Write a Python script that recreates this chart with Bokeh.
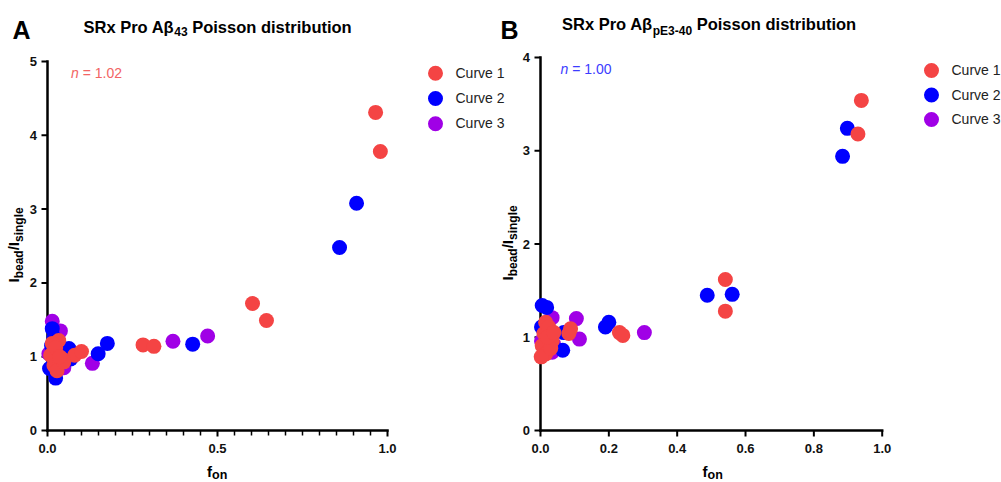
from bokeh.plotting import figure
from bokeh.models import Range1d, Label
from bokeh.core.properties import value
from bokeh.embed import file_html
from bokeh.resources import INLINE

# ---------------- data ----------------
series_names = ["Curve 1", "Curve 2", "Curve 3"]
series_colors = ["#F44444", "#0000FF", "#A000E6"]

# Panel A : SRx Pro Abeta43
a_curve1_x = [0.965, 0.979, 0.603, 0.644, 0.281, 0.313, 0.080, 0.100, 0.033, 0.019,
              0.043, 0.019, 0.028, 0.048, 0.009, 0.014, 0.024, 0.036]
a_curve1_y = [4.31, 3.78, 1.72, 1.49, 1.16, 1.14, 1.02, 1.07, 1.22, 1.08,
              0.97, 0.88, 0.81, 0.93, 1.02, 1.18, 1.12, 1.00]
a_curve2_x = [0.909, 0.859, 0.427, 0.176, 0.149, 0.014, 0.024, 0.019, 0.063, 0.068,
              0.006, 0.012, 0.020]
a_curve2_y = [3.08, 2.48, 1.17, 1.18, 1.04, 1.38, 0.71, 1.26, 1.11, 0.97,
              0.84, 1.15, 0.92]
a_curve3_x = [0.369, 0.471, 0.132, 0.014, 0.038, 0.004, 0.048, 0.045, 0.025]
a_curve3_y = [1.21, 1.28, 0.91, 1.48, 1.35, 1.04, 0.85, 0.88, 1.10]

# Panel B : SRx Pro Abeta pE3-40
b_curve1_x = [0.939, 0.929, 0.541, 0.541, 0.231, 0.241, 0.088, 0.083, 0.015, 0.010,
              0.024, 0.034, 0.005, 0.015, 0.002, 0.030, 0.020, 0.039]
b_curve1_y = [3.54, 3.18, 1.62, 1.28, 1.05, 1.02, 1.09, 1.04, 1.16, 1.04,
              1.11, 0.96, 0.91, 0.82, 0.79, 0.88, 1.00, 1.05]
b_curve2_x = [0.898, 0.884, 0.488, 0.561, 0.190, 0.200, 0.065, 0.068, 0.005, 0.018,
              0.003, 0.025]
b_curve2_y = [3.24, 2.94, 1.45, 1.46, 1.11, 1.16, 0.86, 1.05, 1.34, 1.32,
              1.11, 0.93]
b_curve3_x = [0.304, 0.105, 0.114, 0.034, 0.003, 0.038, 0.034, 0.020]
b_curve3_y = [1.05, 1.20, 0.98, 1.21, 0.96, 0.93, 0.84, 1.05]

a_xticks = [0.0, 0.5, 1.0]
a_xminor = [0.05, 0.1, 0.15, 0.2, 0.25, 0.3, 0.35, 0.4, 0.45,
            0.55, 0.6, 0.65, 0.7, 0.75, 0.8, 0.85, 0.9, 0.95]
a_yticks = [0, 1, 2, 3, 4, 5]
b_xticks = [0.0, 0.2, 0.4, 0.6, 0.8, 1.0]
b_xminor = []
b_yticks = [0, 1, 2, 3, 4]

a_sub = "43"
b_sub = "pE3-40"
a_n_text = "1.02"
b_n_text = "1.00"

FONT = "Liberation Sans"
W, H = 1001, 482
SHIFT = 0.39   # label anchor correction (fraction of font size)

BOLD = {' ': 278, '/': 278, '-': 333, '.': 278, '=': 584, 'A': 722, 'B': 722, 'C': 722,
        'E': 667, 'I': 278, 'P': 667, 'R': 722, 'S': 667, 'a': 556, 'b': 611, 'd': 611,
        'e': 556, 'f': 333, 'g': 611, 'i': 278, 'l': 278, 'n': 611, 'o': 611, 'p': 611,
        'r': 389, 's': 556, 't': 333, 'u': 611, 'x': 556, 'β': 611}
REG = {' ': 278, '=': 584, '.': 278, 'n': 556}


def tw(s, size, table=BOLD):
    return sum(table.get(c, 556) for c in s) * size / 1000.0


p = figure(width=W, height=H, output_backend="svg", toolbar_location=None, tools="",
           x_axis_location=None, y_axis_location=None,
           min_border=0, min_border_left=0, min_border_right=0,
           min_border_top=0, min_border_bottom=0)
p.outline_line_color = None
p.xgrid.visible = False
p.ygrid.visible = False
p.background_fill_color = "white"
p.border_fill_color = "white"

# pixel ranges for layout items (legend swatches)
p.extra_x_ranges["px"] = Range1d(0, W)
p.extra_y_ranges["py"] = Range1d(H, 0)


def add_text(cx, cy, text, size, style="bold", color="#000000", rotated=False):
    if rotated:
        ax, ay = cx - SHIFT * size, cy
    else:
        ax, ay = cx, cy - SHIFT * size
    p.add_layout(Label(x=ax, y=H - ay, x_units="screen", y_units="screen",
                       text=text, text_font=FONT, text_font_size=f"{size}px",
                       text_font_style=style, text_color=color,
                       angle=1.5708 if rotated else 0.0,
                       text_align="left", text_baseline="alphabetic"))


def make_panel(key, FL, FR, FT, FB, ymax, xticks, xminor, yticks, data,
               leg_x, leg_y0, leg_pitch, letter, letter_x, title_x, title_base, sub,
               sub_off, n_text, n_color, n_x, n_base, flabel_x, ylab_x, ylab_y):
    kx = 1.0 / (FR - FL)
    ky = ymax / (FB - FT)
    xr = Range1d(-FL * kx, (W - FL) * kx)
    yr = Range1d(-(H - FB) * ky, ymax + FT * ky)
    if key == "a":
        p.x_range = xr
        p.y_range = yr
        rn = dict()
    else:
        p.extra_x_ranges[key + "x"] = xr
        p.extra_y_ranges[key + "y"] = yr
        rn = dict(x_range_name=key + "x", y_range_name=key + "y")

    # axes from the tick lists
    p.segment(x0=[0, 0], y0=[0, 0], x1=[1, 0], y1=[0, ymax], line_width=2.5,
              line_color="#000000", line_cap="square", **rn)
    n = len(xticks)
    p.segment(x0=xticks, y0=[0] * n, x1=xticks, y1=[-6 * ky] * n,
              line_width=2, line_color="#000000", **rn)
    if xminor:
        m = len(xminor)
        p.segment(x0=xminor, y0=[0] * m, x1=xminor, y1=[-5 * ky] * m,
                  line_width=1.5, line_color="#000000", **rn)
    ny = len(yticks)
    p.segment(x0=[-6 * kx] * ny, y0=yticks, x1=[0] * ny, y1=yticks,
              line_width=2, line_color="#000000", **rn)
    p.text(x=xticks, y=[0] * n, text=[f"{t:.1f}" for t in xticks], y_offset=13.5,
           text_align="center", text_baseline="top", text_font=value(FONT),
           text_font_style="bold", text_font_size="13px", text_color="#111111", **rn)
    p.text(x=[0] * ny, y=yticks, text=[f"{t:d}" for t in yticks], x_offset=-10.5,
           text_align="right", text_baseline="middle", text_font=value(FONT),
           text_font_style="bold", text_font_size="13px", text_color="#111111", **rn)

    for idx in (2, 1, 0):
        xs, ys = data[idx]
        p.scatter(xs, ys, size=15, marker="circle", fill_color=series_colors[idx],
                  line_color=None, **rn)

    # legend (swatches + labels)
    ly = [leg_y0 + i * leg_pitch for i in range(len(series_names))]
    p.scatter([leg_x] * len(ly), ly, size=15, marker="circle", fill_color=series_colors,
              line_color=None, x_range_name="px", y_range_name="py")
    for i, name in enumerate(series_names):
        add_text(leg_x + 20, ly[i] + 5, name, 14, style="normal", color="#222222")

    # panel letter
    add_text(letter_x, 39.5, letter, 25)
    # title with subscript
    main = "SRx Pro Aβ"
    tail = "Poisson distribution"
    add_text(title_x, title_base, main, 16.5)
    x1 = title_x + tw(main, 16.5)
    add_text(x1, title_base + sub_off, sub, 12)
    x2 = x1 + tw(sub, 12) + tw(" ", 16.5)
    add_text(x2, title_base, tail, 16.5)
    # n annotation
    add_text(n_x, n_base, "n", 14, style="italic", color=n_color)
    add_text(n_x + tw("n ", 14, REG), n_base, "= " + n_text, 14,
             style="normal", color=n_color)
    # x axis label f_on
    add_text(flabel_x, 476.5, "f", 15)
    add_text(flabel_x + tw("f", 15), 479, "on", 12.5)
    # y axis label I_bead / I_single (rotated)
    parts = [("I", 15, 0), ("bead", 12, 4.5), ("/I", 15, 0), ("single", 12, 4.5)]
    cy = ylab_y
    for txt, sz, off in parts:
        add_text(ylab_x + off, cy, txt, sz, rotated=True)
        cy -= tw(txt, sz)


make_panel("a", 47, 387, 61, 430, 5, a_xticks, a_xminor, a_yticks,
           [(a_curve1_x, a_curve1_y), (a_curve2_x, a_curve2_y), (a_curve3_x, a_curve3_y)],
           leg_x=435, leg_y0=72.7, leg_pitch=25.3, letter="A", letter_x=12,
           title_x=83, title_base=32.5, sub=a_sub, sub_off=3.5, n_text=a_n_text,
           n_color="#F26464", n_x=70.5, n_base=78, flabel_x=206.5, ylab_x=18.5, ylab_y=282)

make_panel("b", 540, 881.7, 57, 430, 4, b_xticks, b_xminor, b_yticks,
           [(b_curve1_x, b_curve1_y), (b_curve2_x, b_curve2_y), (b_curve3_x, b_curve3_y)],
           leg_x=931, leg_y0=70, leg_pitch=24.5, letter="B", letter_x=500,
           title_x=561.5, title_base=29.5, sub=b_sub, sub_off=6, n_text=b_n_text,
           n_color="#3C3CFF", n_x=560, n_base=74, flabel_x=702, ylab_x=512.5, ylab_y=280)

open("out.html", "w").write(file_html(p, INLINE))
